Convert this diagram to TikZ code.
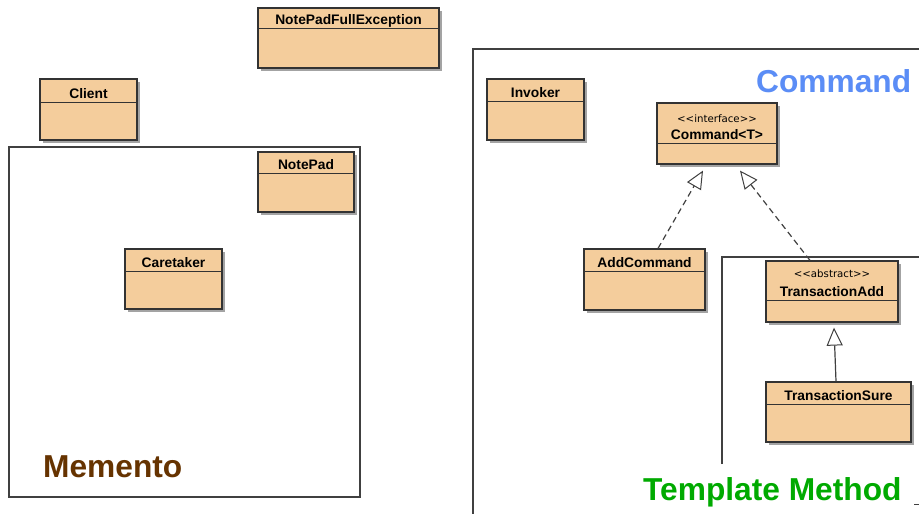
\documentclass[tikz,border=0pt]{standalone}
\usepackage{fontspec}
\setmainfont{Liberation Sans}
\newfontfamily\stfont{DejaVu Sans}
\usetikzlibrary{arrows.meta,shadows}
\definecolor{boxfill}{HTML}{F4CD9C}
\definecolor{boxline}{HTML}{333333}
\definecolor{mementoc}{HTML}{663300}
\definecolor{commandc}{HTML}{5B8DF6}
\definecolor{templatec}{HTML}{00AA00}
\tikzset{
 cls/.style={draw=boxline, fill=boxfill, line width=1.2pt, inner sep=0pt,
   drop shadow={shadow xshift=3pt, shadow yshift=-3pt, fill=black!60, opacity=0.6}},
 clsname/.style={font=\fontsize{13.8}{14}\selectfont\bfseries, inner sep=0pt, anchor=base},
 stereo/.style={font=\stfont\fontsize{10.2}{11}\selectfont, inner sep=0pt, anchor=base},
 frameline/.style={draw=black!75, line width=1.1pt},
 bigtitle/.style={font=\fontsize{31.7}{33}\selectfont\bfseries, inner sep=0pt, anchor=base west},
 realize/.style={draw=black!75, line width=1.2pt, dash pattern=on 6pt off 4pt,
   -{Triangle[open, length=18pt, width=16pt, fill=white, line width=1pt]}},
 generalize/.style={draw=black!75, line width=1.2pt,
   -{Triangle[open, length=18pt, width=16pt, fill=white, line width=1pt]}},
}
% #1 name, #2 x1, #3 y1, #4 x2, #5 y2, #6 divider y, #7 label
\newcommand\umlcls[7]{%
  \node[cls, minimum width={(#4-#2)*1pt}, minimum height={(#5-#3)*1pt}] (#1) at ({(#2+#4)/2},{(#3+#5)/2}) {};
  \draw[boxline, line width=1pt] (#1.west |- 0,#6) -- (#1.east |- 0,#6);
  \node[clsname] (#1-name) at ({(#2+#4)/2},{#6-3.7}) {#7};
}
\newcommand\umlstereo[3]{% name, baseline y, text
  \node[stereo] (#1-st) at (#1.north |- 0,#2) {#3};
}
\begin{document}
\begin{tikzpicture}[x=1pt,y=-1pt]
\clip (0,0) rectangle (919,514);
\fill[white] (0,0) rectangle (919,514);

% frames
\draw[frameline] (9,147) rectangle (360,497);
\draw[frameline] (473,516) -- (473,49) -- (921,49);
\draw[frameline] (722,464) -- (722,257) -- (921,257);
\draw[frameline, line width=0.8pt] (914,504) -- (921,504);

% classes
\umlcls{npfe}{258}{8}{439}{68}{28}{NotePadFullException}
\umlcls{client}{40}{79}{137}{140}{102}{Client}
\umlcls{notepad}{258}{152}{354}{212}{173}{NotePad}
\umlcls{caretaker}{125}{249}{222}{309}{271}{Caretaker}
\umlcls{invoker}{487}{79}{584}{140}{101}{Invoker}
\umlcls{command}{657}{103}{777}{164}{143}{Command<T>}
\umlstereo{command}{122}{<<interface>>}
\umlcls{addcmd}{584}{249}{705}{310}{271}{AddCommand}
\umlcls{tadd}{766}{261}{898}{322}{300}{TransactionAdd}
\umlstereo{tadd}{277}{<<abstract>>}
\umlcls{tsure}{766}{382}{911}{442}{404}{TransactionSure}

% titles
\node[bigtitle, text=mementoc] (memento-title) at (43,477) {Memento};
\node[bigtitle, text=commandc] (command-title) at (756,92.5) {Command};
\node[bigtitle, text=templatec] (template-title) at (643,500) {Template Method};

% connectors
\draw[realize] ([xshift=13.5pt]addcmd.north) -- ([xshift=-14pt,yshift=-6pt]command.south);
\draw[realize] ([xshift=-22pt]tadd.north) -- ([xshift=23pt,yshift=-6pt]command.south);
\draw[generalize] ([xshift=-2.5pt]tsure.north) -- ([xshift=2pt,yshift=-5pt]tadd.south);
\end{tikzpicture}
\end{document}
